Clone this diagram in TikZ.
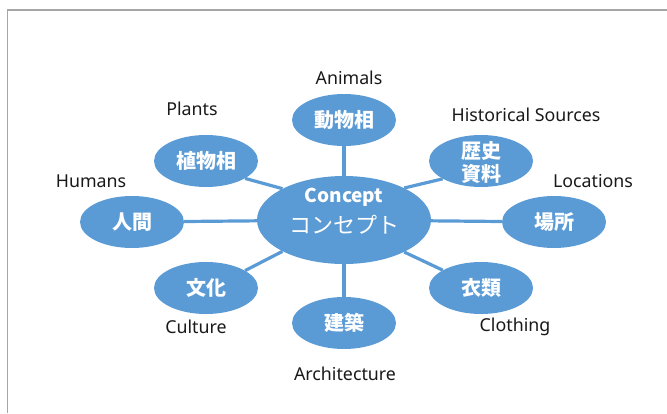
\documentclass[tikz,border=0pt]{standalone}
\usepackage{fontspec}
\setmainfont{Noto Sans}
\newfontfamily\jpfont{Noto Sans CJK JP}
\usetikzlibrary{shapes.geometric}
\definecolor{nodeblue}{HTML}{5B9BD5}
\definecolor{framegray}{HTML}{A6A6A6}
\begin{document}
\begin{tikzpicture}[x=1pt,y=-1pt,
  sat/.style={ellipse, fill=nodeblue, draw=none, minimum width=104pt, minimum height=52pt, inner sep=0pt,
    text=white, font=\jpfont\fontsize{20}{24}\selectfont\bfseries},
  hub/.style={ellipse, fill=nodeblue, draw=none, minimum width=174pt, minimum height=88pt, inner sep=0pt},
  intext/.style={text=white, inner sep=0pt, anchor=base},
  lab/.style={font=\fontsize{17.8}{20}\selectfont, text=black!90, inner sep=0pt},
  link/.style={draw=nodeblue, line width=3.2pt}]
\useasboundingbox (0,0) rectangle (667,413);
\draw[framegray, line width=1.2pt] (667,10) -- (7.5,10) -- (7.5,413);

% nodes
\node[hub] (c) at (344,220) {};
\node[intext, font=\jpfont\fontsize{19}{22}\selectfont\bfseries] (cen1) at (344,202) {Concept};
\node[intext, font=\jpfont\fontsize{22}{26}\selectfont] (cen2) at (344,233) {コンセプト};

\node[sat] (anim) at (344,120) {動物相};
\node[sat] (plant) at (206,161) {植物相};
\node[sat] (hum) at (132,222) {人間};
\node[sat] (cult) at (206,288) {文化};
\node[sat] (arch) at (344,323) {建築};
\node[sat] (cloth) at (481,288) {衣類};
\node[sat] (place) at (554,222) {場所};
\node[sat] (hist) at (481,161) {};
\node[intext, font=\jpfont\fontsize{20}{24}\selectfont\bfseries] (hist1) at (481,158) {歴史};
\node[intext, font=\jpfont\fontsize{20}{24}\selectfont\bfseries] (hist2) at (481,181) {資料};

% connectors
\draw[link] (anim) -- (c);
\draw[link] (arch) -- (c);
\draw[link] (hum) -- (c);
\draw[link] (place) -- (c);
\draw[link] (plant.-24) -- (c.153);
\draw[link] (cult.24) -- (c.207);
\draw[link] (c.28) -- (hist.205);
\draw[link] (c.-28) -- (cloth.155);

% labels
\node[lab] (lanim) at (349,78) {Animals};
\node[lab] (lplant) at (192,109) {Plants};
\node[lab] (lhist) at (526,115) {Historical Sources};
\node[lab] (lhum) at (91,181) {Humans};
\node[lab] (lplace) at (593,181) {Locations};
\node[lab] (lcult) at (196,327) {Culture};
\node[lab] (lcloth) at (515,327) {Clothing};
\node[lab] (larch) at (345,374) {Architecture};
\end{tikzpicture}
\end{document}
